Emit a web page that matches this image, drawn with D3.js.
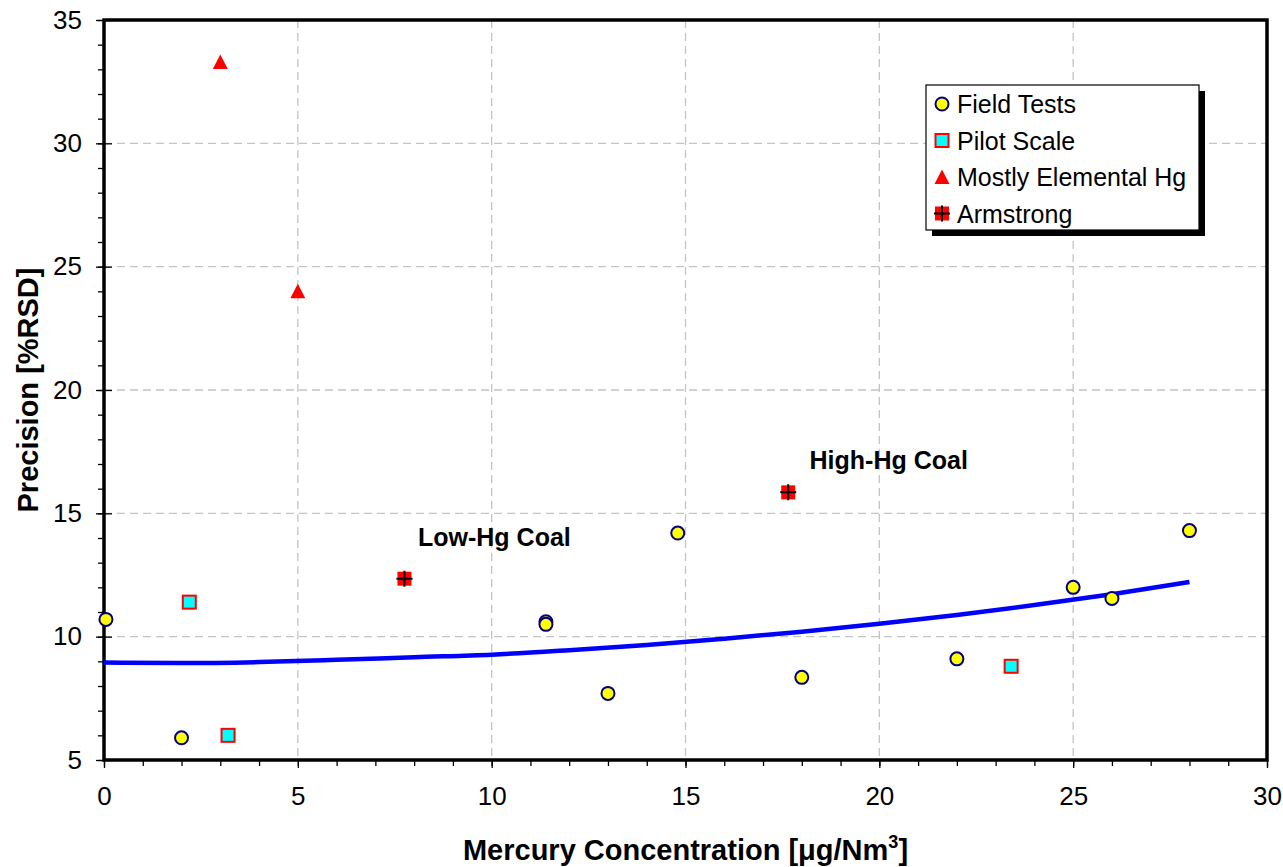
<!DOCTYPE html>
<html>
<head>
<meta charset="utf-8">
<script src="https://cdn.jsdelivr.net/npm/d3@7"></script>
<style>
  body { margin: 0; background: #fff; }
  text { font-family: "Liberation Sans", Arial, sans-serif; }
</style>
</head>
<body>
<svg id="chart" width="1283" height="867"></svg>
<script>
// values
var field_tests = [[0.05, 10.7], [2.0, 5.9], [11.4, 10.6], [11.4, 10.5], [13.0, 7.7], [14.8, 14.2],
                   [18.0, 8.35], [22.0, 9.1], [25.0, 12.0], [26.0, 11.55], [28.0, 14.3]];
var pilot_scale = [[2.2, 11.4], [3.2, 6.0], [23.4, 8.8]];
var elemental_hg = [[3.0, 33.3], [5.0, 24.0]];
var armstrong = [[7.75, 12.35], [17.65, 15.85]];
var trend_pts = [[0, 8.95], [2, 8.93], [4, 8.97], [6, 9.06], [8, 9.17], [10, 9.27], [12, 9.45], [14, 9.66],
                 [16, 9.92], [18, 10.2], [20, 10.52], [22, 10.88], [24, 11.28], [26, 11.72], [28, 12.22]];
var x_ticks = [0, 5, 10, 15, 20, 25, 30];
var y_ticks = [5, 10, 15, 20, 25, 30, 35];
var legend_names = ["Field Tests", "Pilot Scale", "Mostly Elemental Hg", "Armstrong"];
var notes = [{"txt": "Low-Hg Coal", "x": 8.1, "y": 13.67}, {"txt": "High-Hg Coal", "x": 18.2, "y": 16.8}];

var margin = {left: 104, right: 16, top: 20, bottom: 107};
var svg = d3.select("#chart");
var W = 1283 - margin.left - margin.right, H = 867 - margin.top - margin.bottom;

var x = d3.scaleLinear().domain([0, 30]).range([0, W]);
var y = d3.scaleLinear().domain([5, 35]).range([H, 0]);

var g = svg.append("g").attr("transform", "translate(" + margin.left + "," + margin.top + ")");

// grid
g.append("g").selectAll("line.gx").data(x_ticks.slice(1, -1)).enter().append("line")
   .attr("x1", function(d) { return x(d); }).attr("x2", function(d) { return x(d); })
   .attr("y1", 0).attr("y2", H)
   .attr("stroke", "#c4c4c4").attr("stroke-width", 1.3).attr("stroke-dasharray", "8 5");
g.append("g").selectAll("line.gy").data(y_ticks.slice(1, -1)).enter().append("line")
   .attr("y1", function(d) { return y(d); }).attr("y2", function(d) { return y(d); })
   .attr("x1", 0).attr("x2", W)
   .attr("stroke", "#c4c4c4").attr("stroke-width", 1.3).attr("stroke-dasharray", "8 5");

// axes
var x_minor = d3.range(0, 31, 1), y_minor = d3.range(5, 36, 1);
var xAx = g.append("g").attr("transform", "translate(0," + H + ")")
   .call(d3.axisBottom(x).tickValues(x_minor).tickSize(6).tickFormat(""));
var xMaj = g.append("g").attr("transform", "translate(0," + H + ")")
   .call(d3.axisBottom(x).tickValues(x_ticks).tickSize(8).tickPadding(19).tickFormat(d3.format("d")));
var yAx = g.append("g").call(d3.axisLeft(y).tickValues(y_minor).tickSize(6).tickFormat(""));
var yMaj = g.append("g").call(d3.axisLeft(y).tickValues(y_ticks).tickSize(8).tickPadding(14).tickFormat(d3.format("d")));
[xAx, xMaj, yAx, yMaj].forEach(function(a) {
   a.select(".domain").remove();
   a.selectAll("line").attr("stroke", "#000").attr("stroke-width", 1.3);
   a.selectAll("text").attr("font-size", 26).attr("fill", "#000")
      .style("font-family", "'Liberation Sans', Arial, sans-serif");
});
yMaj.selectAll("line").attr("x2", 8).attr("x1", -8);

// frame
g.append("rect").attr("x", 0).attr("y", 0).attr("width", W).attr("height", H)
   .attr("fill", "none").attr("stroke", "#000").attr("stroke-width", 3.5);

// trend line
g.append("path").datum(trend_pts)
   .attr("d", d3.line().x(function(d) { return x(d[0]); }).y(function(d) { return y(d[1]); }).curve(d3.curveMonotoneX))
   .attr("fill", "none").attr("stroke", "#0000ff").attr("stroke-width", 4.5);

// markers
function draw_circle(sel) {
   sel.append("circle").attr("r", 6.5).attr("fill", "#ffff00").attr("stroke", "#000080").attr("stroke-width", 2);
}
function draw_square(sel) {
   sel.append("rect").attr("x", -6.5).attr("y", -6.5).attr("width", 13).attr("height", 13)
      .attr("fill", "#00ffff").attr("stroke", "#ff0000").attr("stroke-width", 2);
}
function draw_triangle(sel) {
   sel.append("path").attr("d", "M0,-7.5L7.5,7L-7.5,7Z").attr("fill", "#ff0000");
}
function draw_cross(sel) {
   sel.append("rect").attr("x", -7).attr("y", -7).attr("width", 14).attr("height", 14).attr("fill", "#ff0000");
   sel.append("path").attr("d", "M-8,0H8M0,-8V8").attr("stroke", "#000").attr("stroke-width", 2);
}
var marker_fns = [draw_circle, draw_square, draw_triangle, draw_cross];
[field_tests, pilot_scale, elemental_hg, armstrong].forEach(function(series, i) {
   g.append("g").selectAll("g").data(series).enter().append("g")
      .attr("transform", function(d) { return "translate(" + x(d[0]) + "," + y(d[1]) + ")"; })
      .call(marker_fns[i]);
});

// annotations
g.selectAll("text.note").data(notes).enter().append("text")
   .attr("x", function(d) { return x(d.x); }).attr("y", function(d) { return y(d.y); })
   .attr("font-size", 25).attr("font-weight", "bold").text(function(d) { return d.txt; });

// legend
var leg = svg.append("g").attr("transform", "translate(926,85)");
leg.append("rect").attr("x", 6).attr("y", 6).attr("width", 273).attr("height", 145).attr("fill", "#000");
leg.append("rect").attr("x", 0).attr("y", 0).attr("width", 273).attr("height", 145)
   .attr("fill", "#fff").attr("stroke", "#000").attr("stroke-width", 1.2);
legend_names.forEach(function(nm, i) {
   var row = leg.append("g").attr("transform", "translate(0," + (19 + i * 36.5) + ")");
   row.append("g").attr("transform", "translate(16,0)").call(marker_fns[i]);
   row.append("text").attr("x", 31).attr("y", 9).attr("font-size", 25).text(nm);
});

// axis titles
svg.append("text").attr("transform", "translate(38," + (margin.top + H / 2) + ") rotate(-90)")
   .attr("text-anchor", "middle").attr("font-size", 29).attr("font-weight", "bold").text("Precision [%RSD]");
var xt = svg.append("text").attr("x", margin.left + W / 2).attr("y", 860)
   .attr("text-anchor", "middle").attr("font-size", 29).attr("font-weight", "bold");
xt.append("tspan").text("Mercury Concentration [\u03bcg/Nm");
xt.append("tspan").attr("dy", -12).attr("font-size", 18).text("3");
xt.append("tspan").attr("dy", 12).text("]");
</script>
</body>
</html>
